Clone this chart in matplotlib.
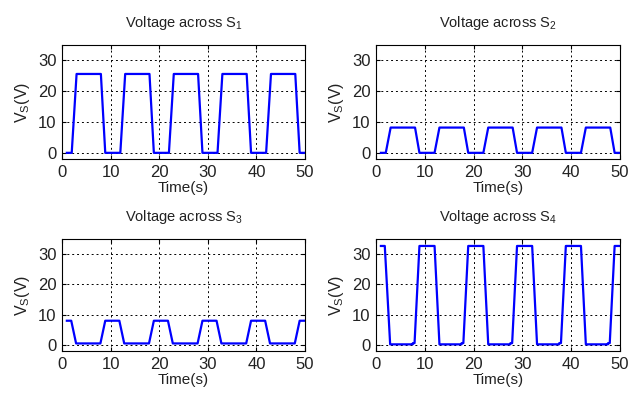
import matplotlib
matplotlib.use("Agg")
import matplotlib.pyplot as plt

plt.rcParams['font.family'] = ['Liberation Sans', 'DejaVu Sans']
plt.rcParams['mathtext.fontset'] = 'custom'
plt.rcParams['mathtext.rm'] = 'Liberation Sans'
plt.rcParams['mathtext.it'] = 'Liberation Sans'
plt.rcParams['text.color'] = '#222222'
plt.rcParams['axes.labelcolor'] = '#222222'
plt.rcParams['xtick.labelcolor'] = '#222222'
plt.rcParams['ytick.labelcolor'] = '#222222'

# switching waveforms (breakpoints)
t_s1 = [1, 2, 3, 8, 8.9, 12, 13, 18, 18.9, 22, 23, 28, 28.9, 32, 33, 38, 38.9, 42, 43, 48, 48.9, 50]
v_s1 = [0, 0, 25.6, 25.6, 0, 0, 25.6, 25.6, 0, 0, 25.6, 25.6, 0, 0, 25.6, 25.6, 0, 0, 25.6, 25.6, 0, 0]

t_s2 = [1, 2, 3, 8, 8.9, 12, 13, 18, 18.9, 22, 23, 28, 28.9, 32, 33, 38, 38.9, 42, 43, 48, 48.9, 50]
v_s2 = [0, 0, 8.2, 8.2, 0, 0, 8.2, 8.2, 0, 0, 8.2, 8.2, 0, 0, 8.2, 8.2, 0, 0, 8.2, 8.2, 0, 0]

t_s3 = [1, 1.9, 2.9, 7.9, 8.9, 11.8, 12.8, 17.9, 18.9, 21.8, 22.8, 27.9, 28.9, 31.8, 32.8, 37.9, 38.9, 41.8, 42.8, 47.9, 48.9, 50]
v_s3 = [8.0, 8.0, 0.5, 0.5, 8.0, 8.0, 0.5, 0.5, 8.0, 8.0, 0.5, 0.5, 8.0, 8.0, 0.5, 0.5, 8.0, 8.0, 0.5, 0.5, 8.0, 8.0]

t_s4 = [1, 1.8, 2.9, 7.5, 7.55, 7.9, 8.9, 12, 13, 17.5, 17.55, 17.9, 18.9, 22, 23, 27.5, 27.55, 27.9, 28.9,
        32, 33, 37.5, 37.55, 37.9, 38.9, 42, 43, 47.5, 47.55, 47.9, 48.9, 50]
v_s4 = [32.7, 32.7, 0.2, 0.2, 0.6, 0.6, 32.7, 32.7, 0.2, 0.2, 0.6, 0.6, 32.7, 32.7, 0.2, 0.2, 0.6, 0.6, 32.7,
        32.7, 0.2, 0.2, 0.6, 0.6, 32.7, 32.7, 0.2, 0.2, 0.6, 0.6, 32.7, 32.7]

titles = ['Voltage across S$_1$', 'Voltage across S$_2$', 'Voltage across S$_3$', 'Voltage across S$_4$']
xticks = [0, 10, 20, 30, 40, 50]
yticks = [0, 10, 20, 30]

fig = plt.figure(figsize=(6.37, 3.96), dpi=100)
W, H = 637.0, 396.0
boxes = [(62, 45, 305, 159), (376, 45, 620, 159), (62, 239, 305, 351), (376, 239, 620, 351)]
data = [(t_s1, v_s1), (t_s2, v_s2), (t_s3, v_s3), (t_s4, v_s4)]

for (l, t, r, b), (tx, vy), title in zip(boxes, data, titles):
    ax = fig.add_axes([l / W, 1 - b / H, (r - l) / W, (b - t) / H])
    ax.plot(tx, vy, color='#0000ff', linewidth=1.6)
    ax.set_xlim(0, 50)
    ax.set_ylim(-2, 35)
    ax.set_xticks(xticks)
    ax.set_yticks(yticks)
    ax.grid(True, color='black', linestyle=(0, (2, 3)), linewidth=0.7)
    ax.tick_params(direction='in', top=True, right=True, labelsize=12, length=3, pad=4)
    ax.set_title(title, fontsize=10.5, pad=13)
    ax.set_xlabel('Time(s)', fontsize=11, labelpad=1)
    ax.set_ylabel('V$_S$(V)', fontsize=11.5, labelpad=4)
    for s in ax.spines.values():
        s.set_linewidth(0.8)

fig.savefig('out.png', dpi=100, facecolor='white')
